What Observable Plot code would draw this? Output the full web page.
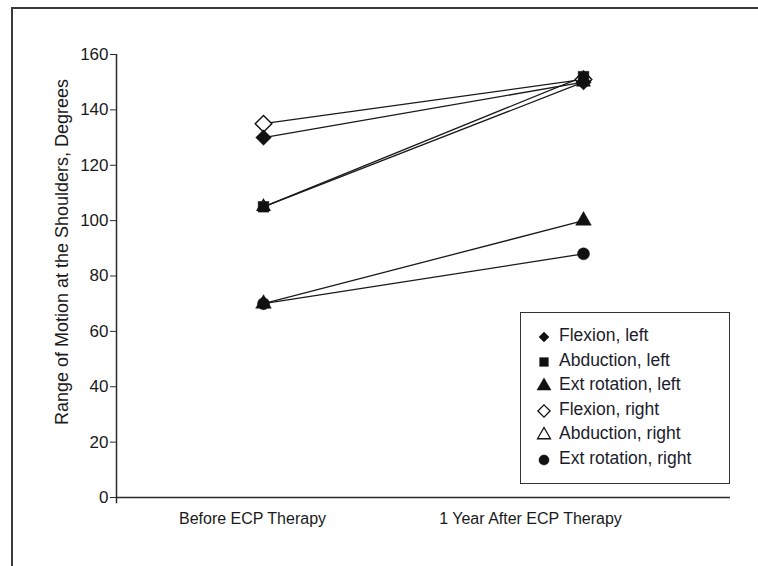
<!DOCTYPE html>
<html>
<head>
<meta charset="utf-8">
<script src="https://cdn.jsdelivr.net/npm/d3@7"></script>
<script src="https://cdn.jsdelivr.net/npm/@observablehq/plot@0.6"></script>
<style>
  html, body { margin: 0; padding: 0; background: #fff; }
  #wrap { position: relative; width: 758px; height: 566px; overflow: hidden; font-family: "Liberation Sans", Arial, sans-serif; }
  #frame { position: absolute; left: 11px; top: 7px; width: 800px; height: 600px; border-left: 2px solid #3a3a3a; border-top: 2px solid #3a3a3a; }
  #chart { position: absolute; left: 0; top: 0; }
  #legend { position: absolute; left: 520px; top: 312px; width: 208px; height: 170px; border: 1.5px solid #333; background: #fff; }
  .row { position: absolute; left: 0; height: 22px; width: 208px; }
  .row svg { position: absolute; left: 12px; top: 0; }
  .row span { position: absolute; left: 38px; top: 0px; font-size: 17.5px; color: #1c1c2c; white-space: pre; }
</style>
</head>
<body>
<div id="wrap">
  <div id="frame"></div>
  <div id="chart"></div>
  <div id="legend"></div>
</div>
<script>
// ---- data ----
const series = ["Flexion, left", "Abduction, left", "Ext rotation, left", "Flexion, right", "Abduction, right", "Ext rotation, right"];
const before = [130, 105, 70, 135, 105, 70];
const after = [150, 152, 100, 151, 150, 88];
const timepoints = ["Before ECP Therapy", "1 Year After ECP Therapy"];
const yTicks = [0, 20, 40, 60, 80, 100, 120, 140, 160];

// ---- styling per series ----
const style = {
  "Flexion, left":       {symbol: "diamond2", fill: "#111", r: 7},
  "Abduction, left":     {symbol: "square",   fill: "#111", r: 6},
  "Ext rotation, left":  {symbol: "triangle", fill: "#111", r: 5.8},
  "Flexion, right":      {symbol: "diamond2", fill: "#fff", r: 7.5},
  "Abduction, right":    {symbol: "triangle2", fill: "none", r: 6},
  "Ext rotation, right": {symbol: "circle",   fill: "#111", r: 6}
};
// hollow markers drawn first so filled ones sit on top
const drawOrder = ["Flexion, right", "Abduction, right", "Flexion, left", "Abduction, left", "Ext rotation, left", "Ext rotation, right"];

const rows = [];
series.forEach((s, i) => {
  rows.push({series: s, t: 1, v: before[i]});
  rows.push({series: s, t: 2, v: after[i]});
});

const font = "Liberation Sans, Arial, sans-serif";
const plot = Plot.plot({
  width: 758,
  height: 566,
  marginLeft: 116,
  marginRight: 28,
  marginTop: 54,
  marginBottom: 69,
  style: {fontFamily: font, fontSize: "17px", color: "#1a1a1a", background: "transparent"},
  x: {domain: [0.540625, 2.459375], axis: null},
  y: {domain: [0, 160], axis: null},
  marks: [
    Plot.ruleY([0], {stroke: "#2a2a2a", strokeWidth: 1.5}),
    Plot.ruleX([0.540625], {y1: -2.3, y2: 160, stroke: "#2a2a2a", strokeWidth: 1.5}),
    Plot.axisY({ticks: yTicks, tickSize: 6, tickPadding: 2, label: null, fontSize: 17, stroke: "#2a2a2a"}),
    Plot.text(["Range of Motion at the Shoulders, Degrees"], {frameAnchor: "left", textAnchor: "middle", rotate: -90, dx: -54, dy: -24, fontSize: 18, fill: "#1a1a1a"}),
    Plot.text([timepoints[0]], {x: 1, frameAnchor: "bottom", dy: 26, dx: -11, fontSize: 16, fill: "#1a1a1a"}),
    Plot.text([timepoints[1]], {x: 2, frameAnchor: "bottom", dy: 26, dx: -53, fontSize: 16, fill: "#1a1a1a"}),
    Plot.line(rows, {x: "t", y: "v", z: "series", stroke: "#1a1a1a", strokeWidth: 1.3}),
    ...drawOrder.map(s => Plot.dot(rows.filter(d => d.series === s), {
      x: "t", y: "v",
      symbol: () => style[s].symbol,
      r: style[s].r,
      fill: style[s].fill,
      stroke: "#111",
      strokeWidth: style[s].fill === "#111" ? 0.5 : 1.4
    }))
  ]
});
document.getElementById("chart").appendChild(plot);

// ---- legend (HTML overlay, symbols via d3.symbol) ----
const symMap = {
  diamond2: d3.symbolDiamond2, square: d3.symbolSquare, triangle: d3.symbolTriangle,
  triangle2: d3.symbolTriangle2, circle: d3.symbolCircle
};
const legendSize = {
  "Flexion, left": 65, "Abduction, left": 75, "Ext rotation, left": 85,
  "Flexion, right": 95, "Abduction, right": 120, "Ext rotation, right": 80
};
const legend = document.getElementById("legend");
series.forEach((s, i) => {
  const row = document.createElement("div");
  row.className = "row";
  row.style.top = (12 + i * 24.6) + "px";
  const st = style[s];
  const path = d3.symbol(symMap[st.symbol], legendSize[s])();
  const filled = st.fill === "#111";
  row.innerHTML = `<svg width="22" height="22"><path transform="translate(11,12)" d="${path}" fill="${filled ? "#111" : "none"}" stroke="#111" stroke-width="${filled ? 0.5 : 1.3}"/></svg><span>${s}</span>`;
  legend.appendChild(row);
});
</script>
</body>
</html>
